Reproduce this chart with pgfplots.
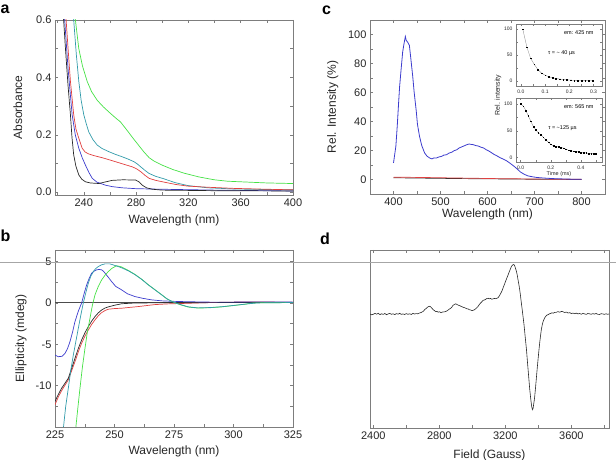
\documentclass[border=0pt]{standalone}
\usepackage{fontspec}
\setmainfont{Liberation Sans}
\usepackage{pgfplots}
\pgfplotsset{compat=1.18}
\definecolor{axgray}{RGB}{125,125,125}
\definecolor{cblue}{RGB}{60,60,205}
\definecolor{cred}{RGB}{225,65,65}
\definecolor{cteal}{RGB}{50,155,170}
\definecolor{cgreen}{RGB}{70,225,70}
\definecolor{cblack}{RGB}{40,40,40}
\pgfplotsset{
  panel/.style={
    scale only axis, clip=true,
    axis line style={axgray, line width=0.7pt},
    every tick/.style={axgray, line width=0.5pt},
    tick align=inside, major tick length=3pt, minor tick length=3pt,
    tick label style={font=\fontsize{11}{12}\selectfont, text=black!85},
    label style={font=\fontsize{12}{13}\selectfont, text=black!85},
    /pgf/number format/assume math mode=true,
    /pgf/number format/1000 sep={},
    every axis plot/.append style={line width=0.7pt},
  },
  inset/.style={
    scale only axis, clip=true,
    axis background/.style={fill=white},
    axis line style={axgray, line width=0.5pt},
    every tick/.style={axgray, line width=0.4pt},
    tick align=inside, major tick length=1.8pt, minor tick length=1.8pt,
    tick label style={font=\fontsize{5}{6}\selectfont, text=black!85},
    label style={font=\fontsize{5.5}{6}\selectfont, text=black!85},
    /pgf/number format/assume math mode=true,
  },
}
\begin{document}
\begin{tikzpicture}
\useasboundingbox (0pt,0pt) rectangle (616pt,460pt);

% ---------------- panel a ----------------
\begin{axis}[panel, at={(55pt,265pt)}, anchor=south west, width=238pt, height=175pt,
  xmin=218, xmax=400, ymin=-0.01, ymax=0.6,
  xtick={240,280,320,360,400}, minor xtick={220,260,300,340,380},
  ytick={0,0.2,0.4,0.6}, minor ytick={0.1,0.3,0.5},
  yticklabel style={/pgf/number format/.cd, fixed, fixed zerofill, precision=1},
  xlabel={Wavelength (nm)}, ylabel={Absorbance},
  ylabel style={yshift=7pt}, xlabel style={yshift=-2pt}]
\addplot[cgreen] coordinates {(231,0.75) (233.6,0.6) (236.2,0.5) (239,0.44) (242.6,0.386) (246,0.35) (250.3,0.32) (255,0.297) (260.5,0.274) (264,0.26) (268,0.245) (272,0.222) (275,0.204) (278,0.186) (282,0.163) (286,0.14) (290,0.12) (293.8,0.108) (300,0.094) (308,0.079) (316.8,0.066) (328,0.053) (339.8,0.043) (350,0.038) (360,0.036) (380,0.032) (400,0.030)};
\addplot[cteal] coordinates {(229,0.75) (232.3,0.6) (234.3,0.48) (236.2,0.386) (238,0.32) (240,0.27) (241.8,0.24) (243.8,0.21) (247,0.183) (250.3,0.164) (254,0.152) (259.2,0.141) (264,0.132) (269.5,0.123) (274,0.115) (278.4,0.106) (281,0.098) (283.6,0.088) (287,0.075) (290,0.065) (295,0.055) (300.2,0.048) (310,0.033) (319.4,0.023) (335,0.015) (355,0.011) (380,0.009) (400,0.008)};
\addplot[cred] coordinates {(224,0.75) (226.5,0.6) (228,0.5) (229.8,0.386) (232.3,0.27) (234,0.22) (236.2,0.188) (238.8,0.153) (241,0.14) (243.8,0.133) (248,0.127) (254.1,0.12) (260,0.112) (264.3,0.106) (270,0.098) (277.2,0.088) (280.5,0.081) (283.6,0.071) (287,0.058) (290,0.048) (295,0.041) (300.2,0.036) (310,0.027) (319.4,0.021) (335,0.017) (355,0.013) (380,0.01) (400,0.008)};
\addplot[cblue] coordinates {(222,0.75) (225.4,0.6) (228,0.43) (231.1,0.27) (233.5,0.2) (236.2,0.153) (238.8,0.12) (241.3,0.094) (244,0.068) (246.5,0.048) (250,0.035) (256.7,0.024) (262,0.019) (269.5,0.015) (280,0.012) (300,0.01) (340,0.007) (400,0.004)};
\addplot[cblack] coordinates {(221.5,0.75) (224.6,0.6) (226,0.5) (228,0.37) (229.8,0.27) (231,0.19) (232.3,0.13) (234,0.09) (236.2,0.06) (238.5,0.045) (241.3,0.036) (245,0.032) (251.5,0.030) (256,0.035) (261.8,0.041) (270,0.043) (279.7,0.042) (282.5,0.035) (284.8,0.024) (288,0.015) (292.5,0.01) (300,0.007) (340,0.005) (400,0.004)};
\end{axis}

% ---------------- panel c ----------------
\begin{axis}[panel, at={(370pt,266pt)}, anchor=south west, width=235pt, height=174pt,
  xmin=350, xmax=850, ymin=-10, ymax=110,
  xtick={400,500,600,700,800}, minor xtick={450,550,650,750},
  ytick={0,20,40,60,80,100}, minor ytick={10,30,50,70,90},
  xlabel={Wavelength (nm)}, ylabel={Rel. Intensity (\%)},
  ylabel style={yshift=3pt}, xlabel style={yshift=3pt}]
\addplot[cblack] coordinates {(400,1.2) (450,1.0) (500,0.8) (550,0.6) (600,0.5) (650,0.3) (700,0.2) (750,0.1) (800,0)};
\addplot[cred] coordinates {(400,1.6) (430,1.5) (460,1.4) (500,1.2) (540,1.0) (580,0.8) (620,0.6) (660,0.5) (700,0.3) (750,0.2) (800,0.1)};
\addplot[cblue, line width=0.8pt] coordinates {(400,11.4) (402,16) (405,22.8) (408,37) (410.8,52.5) (413,64) (416,75.3) (419.5,87.9) (422,93) (425.2,98.6) (427,96) (430.2,94.7) (433.8,92.5) (437,83) (441,70.8) (444,60) (448.2,47.9) (451,38) (455.4,29.7) (460,23.5) (466.2,18.3) (471,16.2) (477,14.8) (482,14.2) (486,14.9) (491.4,14.8) (496,15.5) (502,15.9) (507,16.8) (512.9,17.1) (518,18.2) (524,18.8) (529,19.9) (534.5,20.5) (540,21.8) (546,22.6) (551,23.3) (556,24) (561,24.5) (565,24.2) (570,24) (575,23.4) (580,23.1) (586,22.3) (591.8,21.7) (597,20.6) (602,19.8) (607,18.8) (613,17.5) (620,16.3) (627,15) (634,14) (641,12.8) (648,11.2) (655,9.5) (662,7.6) (670,5.2) (678,3.6) (686,2.5) (695,1.9) (705,1.4) (720,1.0) (740,0.6) (760,0.4) (780,0.2) (800,0.1)};
\end{axis}

% inset 1
\begin{axis}[inset, at={(516pt,374pt)}, anchor=south west, width=86pt, height=62pt,
  xmin=-0.02, xmax=0.335, ymin=-10, ymax=110,
  xtick={0,0.1,0.2,0.3}, minor xtick={0.05,0.15,0.25},
  ytick={0,50,100}, minor ytick={25,75},
  xticklabel style={/pgf/number format/.cd, fixed, fixed zerofill, precision=1}]
\addplot[gray, line width=0.3pt, mark=square*, mark size=0.35pt, mark options={black}] coordinates {(0.008,100) (0.025,65) (0.04,44) (0.055,32) (0.07,22) (0.085,15) (0.1,11) (0.115,8) (0.13,6) (0.145,4.5) (0.16,3.5) (0.175,2.5) (0.19,2) (0.205,1.5) (0.22,1) (0.235,0.8) (0.25,0.5) (0.265,0.4) (0.28,0.3) (0.295,0.2)};
\node[font=\fontsize{5.5}{6}\selectfont] at (rel axis cs:0.73,0.866) {em: 425 nm};
\node[font=\fontsize{5.5}{6}\selectfont] at (rel axis cs:0.53,0.53) {τ = \textasciitilde{} 40 µs};
\end{axis}

% inset 2
\begin{axis}[inset, at={(516pt,298pt)}, anchor=south west, width=86pt, height=64pt,
  xmin=-0.031, xmax=0.54, ymin=-8, ymax=111,
  xtick={0,0.2,0.4}, minor xtick={0.1,0.3,0.5},
  ytick={0,50,100}, minor ytick={25,75},
  xticklabel style={/pgf/number format/.cd, fixed, fixed zerofill, precision=1},
  xlabel={Time (ms)}, xlabel style={yshift=4pt}]
\addplot[gray, line width=0.3pt, mark=square*, mark size=0.35pt, mark options={black}] coordinates {(0.0,100) (0.017,96) (0.034,88) (0.05,78) (0.067,68) (0.084,58) (0.1,52) (0.117,46) (0.134,43) (0.15,38) (0.167,33) (0.184,29) (0.2,25) (0.217,22) (0.234,21) (0.25,20) (0.267,19) (0.284,18) (0.3,16) (0.317,14) (0.334,13) (0.35,12) (0.367,11) (0.384,11) (0.4,10) (0.417,9) (0.434,9) (0.45,8) (0.467,8) (0.484,7) (0.5,8)};
\node[font=\fontsize{5.5}{6}\selectfont] at (rel axis cs:0.73,0.864) {em: 565 nm};
\node[font=\fontsize{5.5}{6}\selectfont] at (rel axis cs:0.54,0.536) {τ = \textasciitilde 125 µs};
\end{axis}
\node[rotate=90, font=\fontsize{7}{8}\selectfont, text=black!85] at (498pt,365pt) {Rel. intensity};

% ---------------- panel b ----------------
\begin{axis}[panel, at={(55pt,33pt)}, anchor=south west, width=238pt, height=177pt,
  xmin=225, xmax=325, ymin=-15, ymax=6.4,
  xtick={225,250,275,300,325}, minor xtick={237.5,262.5,287.5,312.5},
  ytick={-10,-5,0,5}, minor ytick={-12.5,-7.5,-2.5,2.5},
  xlabel={Wavelength (nm)}, ylabel={Ellipticity (mdeg)},
  ylabel style={yshift=2pt}, xlabel style={yshift=-1pt}]
\addplot[gray!60!black, line width=1pt] coordinates {(225,0) (325,0)};
\addplot[cred] coordinates {(225,-12.3) (226.5,-11.3) (228,-10.5) (230.6,-9.3) (232,-8.2) (233.4,-7.1) (234.8,-5.9) (236.2,-4.87) (237.6,-4.0) (239,-3.27) (240.4,-2.6) (241.8,-2.05) (243.2,-1.55) (244.6,-1.17) (246,-0.92) (247.4,-0.76) (250,-0.68) (253,-0.64) (256,-0.55) (260,-0.44) (264,-0.3) (267,-0.2) (272,-0.12) (280,-0.05) (290,0.05) (300,0.1) (310,0.12) (325,0.08)};
\addplot[cblack] coordinates {(225,-11.9) (226.5,-11) (227.8,-10.3) (229.2,-9.7) (230.6,-9.1) (232,-7.9) (233.4,-6.7) (234.8,-5.5) (236.2,-4.47) (237.6,-3.6) (239,-2.86) (240.4,-2.2) (241.8,-1.65) (243.2,-1.2) (244.6,-0.85) (246,-0.62) (247.4,-0.48) (250,-0.28) (253,-0.1) (257,-0.03) (260,0) (280,0.02) (300,0.05) (325,0.05)};
\addplot[cblue] coordinates {(225,-6.3) (226.4,-6.5) (228,-6.45) (229.2,-6.1) (230.3,-5.5) (231.3,-4.67) (232.4,-3.5) (233.4,-2.25) (234.8,-1.0) (236.2,0) (237.3,1.2) (238.3,2.18) (239.4,3.0) (240.4,3.6) (241.5,3.85) (242.5,4.0) (243.5,4.05) (244.6,4.0) (245.3,3.85) (246,3.6) (247.4,3.1) (248.8,2.58) (250.5,2.0) (253,1.58) (255.5,1.1) (258.6,0.77) (262,0.55) (265.6,0.37) (270,0.25) (274,0.2) (280,0.15) (290,0.1) (300,0.1) (310,0.12) (325,0.1)};
\addplot[cgreen] coordinates {(233.3,-17) (233.7,-15.2) (234.6,-12.7) (235.5,-10.3) (236.5,-7.8) (237.6,-5.48) (238.6,-3.5) (239.7,-1.85) (240.7,-0.3) (241.8,0.97) (243.2,2.0) (244.6,2.78) (246,3.35) (247.4,3.79) (249,4.2) (250.9,4.5) (253,4.35) (256,3.9) (258.6,3.45) (261.5,2.85) (264.2,2.2) (267,1.6) (269.8,1.0) (272,0.5) (274,0.2) (276,-0.05) (278,-0.25) (281,-0.5) (285,-0.62) (290,-0.58) (295,-0.48) (300,-0.32) (305,-0.15) (308,0) (325,0.05)};
\addplot[cteal] coordinates {(227.8,-17) (228.5,-15.2) (229.5,-12.5) (230.6,-10.3) (231.6,-8.2) (232.7,-6.3) (233.8,-4.6) (234.8,-3.06) (235.9,-1.4) (236.9,0) (238,1.3) (239,2.38) (240,3.2) (241.1,3.8) (242.1,4.15) (243.2,4.4) (244.5,4.6) (246,4.72) (248.1,4.72) (250.5,4.5) (253,4.25) (256,3.85) (258.6,3.42) (261.5,2.83) (264.2,2.18) (267,1.58) (269.8,0.98) (272,0.5) (274,0.2) (276,-0.02) (278,-0.22) (281,-0.47) (285,-0.6) (290,-0.56) (295,-0.46) (300,-0.3) (305,-0.14) (310,0) (325,0.05)};
\end{axis}

% ---------------- panel d ----------------
\begin{axis}[panel, at={(370pt,32pt)}, anchor=south west, width=239pt, height=178pt,
  xmin=2380, xmax=3828, ymin=-114, ymax=64,
  xtick={2400,2800,3200,3600}, minor xtick={2600,3000,3400,3800},
  ytick=\empty,
  xlabel={Field (Gauss)}, xlabel style={yshift=-4pt}]
\addplot[cblack, line width=0.6pt] coordinates {(2380,0) (2390,-0.8) (2400,-0.3) (2410,0.6) (2420,-0.2) (2430,0.7) (2440,-0.6) (2450,0.2) (2460,-0.4) (2470,0.5) (2480,-0.7) (2490,0.1) (2500,0.6) (2510,-0.3) (2520,0.2) (2530,-0.6) (2540,0.4) (2550,-0.2) (2560,0.7) (2570,-0.4) (2580,0.1) (2590,-0.5) (2600,0.4) (2610,-0.3) (2620,0.2) (2630,-0.5) (2640,0.6) (2650,0) (2660,0.4) (2670,0.2) (2680,1.0) (2690,1.5) (2703,2.7) (2712,4.5) (2720,5.5) (2730,7.0) (2739,7.7) (2746,7.4) (2752,6.3) (2763,4.3) (2770,3.5) (2778,2.3) (2786,2.6) (2793,1.8) (2802,2.2) (2810,1.3) (2820,2.0) (2830,2.1) (2844,2.9) (2852,3.8) (2860,4.8) (2868,5.7) (2874,6.4) (2882,8.5) (2888,9.2) (2895,9.8) (2900,10.2) (2908,9.4) (2915,8.8) (2925,8.2) (2934,7.5) (2945,6.7) (2955,6.2) (2965,5.3) (2975,5.0) (2983,4.2) (2990,4.0) (2998,3.4) (3005,3.7) (3012,4.2) (3020,5.2) (3028,6.4) (3035,7.7) (3042,9.4) (3050,11) (3058,12.3) (3065,13.7) (3072,13.9) (3080,14.6) (3088,15.5) (3096,15.7) (3103,15.2) (3110,15.6) (3118,14.8) (3126,15.1) (3133,15.6) (3140,15.3) (3148,15.7) (3156,16.3) (3163,18) (3170,20) (3178,22.5) (3186,26) (3193,29) (3200,32) (3208,35.5) (3217,39.3) (3227,43.5) (3237,47.7) (3244,49) (3251,49.5) (3256,48.5) (3260,46.5) (3267,42.7) (3272,39) (3277,34) (3282,29.5) (3287,24.3) (3292,18) (3297,11) (3302,4.5) (3307,-2.3) (3313,-10.5) (3318,-19) (3323,-27.5) (3328,-35.7) (3333,-46) (3338,-56) (3343,-66) (3348,-75.7) (3352,-82) (3356,-88) (3360,-93) (3364,-95.7) (3368,-94.5) (3371,-91) (3375,-86.5) (3378,-82.3) (3383,-73.5) (3388,-64) (3393,-54.5) (3398,-45.7) (3403,-37) (3408,-29) (3413,-22) (3418,-15.7) (3423,-11.3) (3428,-8) (3433,-5.8) (3438,-4) (3443,-2.6) (3448,-1.8) (3453,-1) (3459,-0.7) (3467,0.2) (3475,0.5) (3482,1.2) (3490,0.8) (3498,1.6) (3509,1.7) (3518,2.4) (3530,1.8) (3540,2.6) (3549,2.3) (3558,1.5) (3570,1.9) (3580,1.0) (3590,1.3) (3600,0.5) (3610,0.9) (3620,0.3) (3630,0.9) (3640,0.1) (3650,0.5) (3660,-0.2) (3670,0.6) (3680,0.1) (3690,-0.4) (3700,0.5) (3710,0.2) (3720,-0.3) (3730,0.4) (3740,-0.1) (3750,0.5) (3760,-0.3) (3770,-0.5) (3780,0.3) (3790,0.1) (3800,-0.4) (3810,0.2) (3820,-0.3) (3828,0)};
\end{axis}

% panel letters
\node[anchor=base west, font=\fontsize{16}{16}\bfseries, inner sep=0pt] at (0.5pt,446pt) {a};
\node[anchor=base west, font=\fontsize{16}{16}\bfseries, inner sep=0pt] at (322pt,445pt) {c};
\node[anchor=base west, font=\fontsize{16}{16}\bfseries, inner sep=0pt] at (0.5pt,218pt) {b};
\node[anchor=base west, font=\fontsize{16}{16}\bfseries, inner sep=0pt] at (320pt,215pt) {d};

% horizontal rule crossing the lower panels
\draw[gray!70, line width=0.6pt] (0pt,198pt) -- (616pt,198pt);
\end{tikzpicture}
\end{document}
